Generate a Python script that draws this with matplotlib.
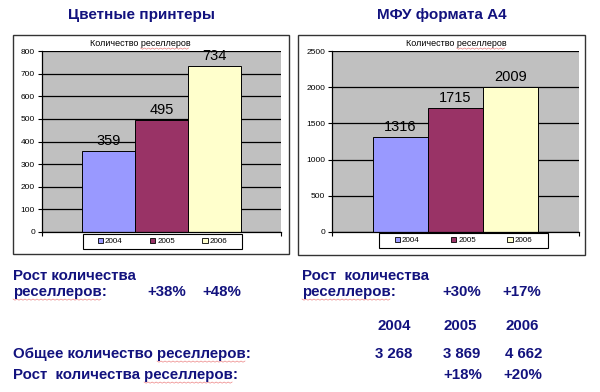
import matplotlib
matplotlib.use('Agg')
import matplotlib.pyplot as plt
from matplotlib.patches import Rectangle, Patch
from matplotlib.font_manager import FontProperties
from matplotlib.lines import Line2D

plt.rcParams['font.family'] = ['Liberation Sans', 'DejaVu Sans']

# данные
years = ['2004', '2005', '2006']
printers = [359, 495, 734]
mfu = [1316, 1715, 2009]
growth_printers = ['+38%', '+48%']
growth_mfu = ['+30%', '+17%']
total_resellers = ['3 268', '3 869', '4 662']
growth_total = ['+18%', '+20%']

bar_colors = ['#9999FF', '#993366', '#FFFFCC']
navy = '#12127E'

W, H = 600, 392
fig = plt.figure(figsize=(W / 100, H / 100), dpi=100, facecolor='white')
renderer = fig.canvas.get_renderer()


def fx(px):
    return px / W


def fy(py):
    return 1 - py / H


def box(x0, y0, x1, y1, color='#333333', lw=1.0):
    fig.patches.append(Rectangle((fx(x0), fy(y1)), fx(x1) - fx(x0), fy(y0) - fy(y1),
                                 transform=fig.transFigure, fill=False,
                                 edgecolor=color, linewidth=lw))


def squiggle(x, y, prefix, word, size, weight='normal', ha='left'):
    # красное подчёркивание проверки орфографии под словом
    fp = FontProperties(family=['Liberation Sans'], size=size, weight=weight)
    wp = renderer.get_text_width_height_descent(prefix, fp, ismath=False)[0] if prefix else 0
    ww = renderer.get_text_width_height_descent(word, fp, ismath=False)[0]
    if ha == 'center':
        full = renderer.get_text_width_height_descent(prefix + word, fp, ismath=False)[0]
        x = x - full / 2
    xs, ys = [], []
    px = x + wp
    k = 0
    while px <= x + wp + ww:
        xs.append(fx(px))
        ys.append(fy(y + (1.2 if k % 2 else 0)))
        px += 2
        k += 1
    fig.lines.append(Line2D(xs, ys, transform=fig.transFigure, color='#E86060',
                            linewidth=0.45, alpha=0.85))


def chart(x0, x1, values, ymax, step, leg_box, colspace):
    ax = fig.add_axes([fx(x0), fy(232), fx(x1) - fx(x0), fy(51) - fy(232)])
    ax.set_facecolor('#C0C0C0')
    ax.set_xlim(-2.25, 2.25)
    ax.set_ylim(0, ymax)
    ax.set_yticks(range(0, ymax + 1, step))
    ax.yaxis.grid(True, color='black', linewidth=0.9)
    ax.set_axisbelow(True)
    ax.set_xticks([-2.25, 2.25])
    ax.set_xticklabels([])
    ax.tick_params(axis='both', direction='out', length=3, width=0.8,
                   labelsize=6, pad=2)
    for s in ['top', 'right']:
        ax.spines[s].set_visible(False)
    for s in ['left', 'bottom']:
        ax.spines[s].set_linewidth(0.9)
    handles = []
    for i, (v, c, yr) in enumerate(zip(values, bar_colors, years)):
        ax.bar(i - 1, v, width=1.0, color=c, edgecolor='black', linewidth=0.7)
        ax.annotate(str(v), (i - 1, v), xytext=(0, 2), textcoords='offset points',
                    ha='center', va='bottom', fontsize=10.5)
        handles.append(Patch(facecolor=c, edgecolor='black', linewidth=0.6, label=yr))
    lx0, ly0, lx1, ly1 = leg_box
    box(lx0, ly0, lx1, ly1, color='black', lw=0.8)
    fig.legend(handles=handles, loc='center',
               bbox_to_anchor=(fx((lx0 + lx1) / 2), fy((ly0 + ly1) / 2)),
               ncol=3, fontsize=5.8, frameon=False, borderpad=0,
               handlelength=0.65, handleheight=0.65, handletextpad=0.25,
               columnspacing=colspace)
    return ax


# левая диаграмма
box(13, 35, 289, 254)
chart(42, 281, printers, 800, 100, (83, 234, 242, 249), 3.4)
fig.text(fx(141), fy(15), 'Цветные принтеры', ha='center', va='center',
         fontsize=11, fontweight='bold', color=navy)
fig.text(fx(140), fy(44), 'Количество реселлеров', ha='center', va='center',
         fontsize=6.5)
squiggle(140, 48, 'Количество ', 'реселлеров', 6.5, ha='center')

# правая диаграмма
box(298, 35, 585, 255)
chart(332, 579, mfu, 2500, 500, (379, 233, 548, 248), 3.9)
fig.text(fx(442), fy(15), 'МФУ формата А4', ha='center', va='center',
         fontsize=11, fontweight='bold', color=navy)
fig.text(fx(456), fy(44), 'Количество реселлеров', ha='center', va='center',
         fontsize=6.5)
squiggle(456, 48, 'Количество ', 'реселлеров', 6.5, ha='center')

# текст внизу
fs = 10.8
tk = dict(fontsize=fs, fontweight='bold', color=navy, va='center', ha='left')
fig.text(fx(13), fy(276), 'Рост количества', **tk)
fig.text(fx(13), fy(292), 'реселлеров:', **tk)
squiggle(13, 299, '', 'реселлеров', fs, 'bold')
for g, x in zip(growth_printers, [147, 202]):
    fig.text(fx(x), fy(292), g, **tk)

fig.text(fx(302), fy(276), 'Рост  количества', **tk)
fig.text(fx(302), fy(292), 'реселлеров:', **tk)
squiggle(302, 299, '', 'реселлеров', fs, 'bold')
for g, x in zip(growth_mfu, [442, 502]):
    fig.text(fx(x), fy(292), g, **tk)

for yr, x in zip(years, [377, 444, 506]):
    fig.text(fx(x), fy(326), yr, **tk)

fig.text(fx(13), fy(354), 'Общее количество реселлеров:', **tk)
squiggle(13, 361, 'Общее количество ', 'реселлеров', fs, 'bold')
for t, x in zip(total_resellers, [375, 443, 505]):
    fig.text(fx(x), fy(354), t, **tk)

fig.text(fx(13), fy(375), 'Рост  количества реселлеров:', **tk)
squiggle(13, 382, 'Рост  количества ', 'реселлеров', fs, 'bold')
for g, x in zip(growth_total, [443, 503]):
    fig.text(fx(x), fy(375), g, **tk)

fig.savefig('out.png', dpi=100, facecolor='white')
